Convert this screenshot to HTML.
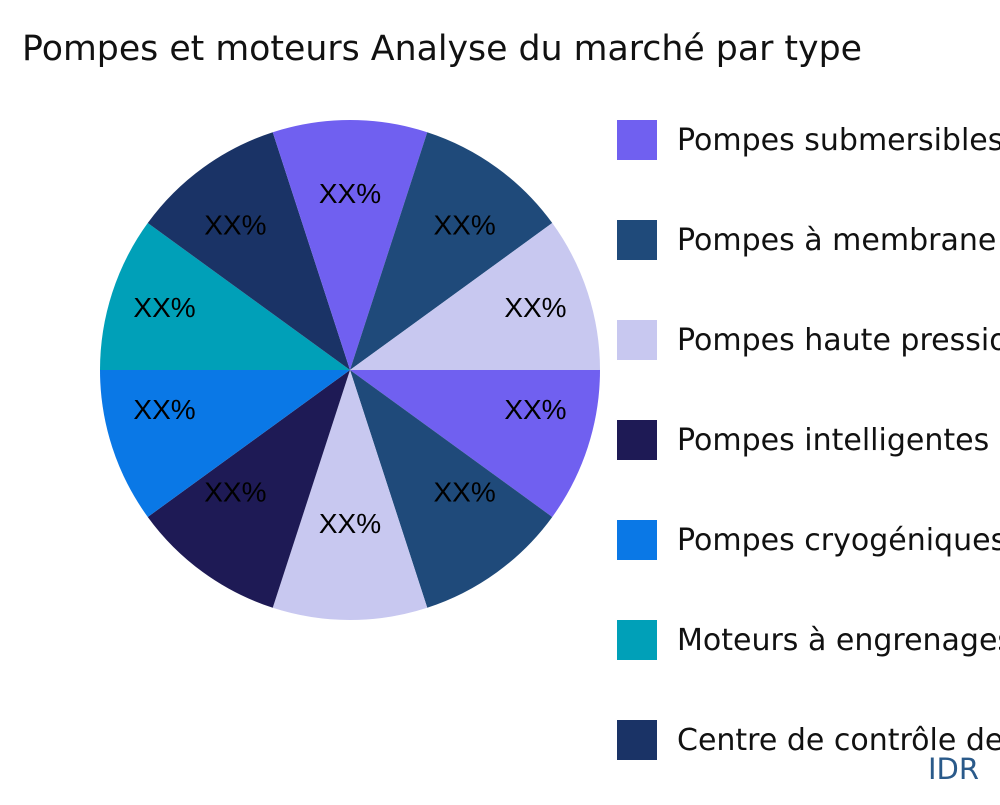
<!DOCTYPE html>
<html><head><meta charset="utf-8"><style>
body{margin:0;background:#fff;width:1000px;height:800px;overflow:hidden;font-family:"Liberation Sans","DejaVu Sans",sans-serif}
</style></head><body>
<svg width="1000" height="800">
<text x="22" y="60" font-size="34.7" fill="#111" font-family="DejaVu Sans, sans-serif" textLength="840" lengthAdjust="spacingAndGlyphs">Pompes et moteurs Analyse du marché par type</text>
<g id="pie"></g>
<g id="legend"></g>
<text x="928" y="779" font-size="29" fill="#2a5a8a" font-family="DejaVu Sans, sans-serif">IDR</text>
</svg>
<script>
const categories=["Pompes submersibles","Pompes à membrane","Pompes haute pression","Pompes intelligentes","Pompes cryogéniques","Moteurs à engrenages","Centre de contrôle des moteurs"];
const colors=["#7060f0","#1f4a7a","#c8c8f0","#1e1a55","#0a78e6","#00a0b8","#1a3366"];
const sliceValues=[10,10,10,10,10,10,10,10,10,10];
const sliceColorIdx=[0,1,2,3,4,5,6,0,1,2];
const sliceLabels=["XX%","XX%","XX%","XX%","XX%","XX%","XX%","XX%","XX%","XX%"];
const NS="http://www.w3.org/2000/svg";
const cx=350,cy=370,R=250;
const pie=document.getElementById('pie');
const total=sliceValues.reduce((a,b)=>a+b,0);
let a0=0;
sliceValues.forEach((v,i)=>{
  const a1=a0+v/total*2*Math.PI;
  const x0=cx+R*Math.cos(a0),y0=cy+R*Math.sin(a0),x1=cx+R*Math.cos(a1),y1=cy+R*Math.sin(a1);
  const p=document.createElementNS(NS,'path');
  p.setAttribute('d',`M${cx},${cy}L${x0},${y0}A${R},${R} 0 ${a1-a0>Math.PI?1:0} 1 ${x1},${y1}Z`);
  p.setAttribute('fill',colors[sliceColorIdx[i]]);
  
  
  pie.appendChild(p);
  const m=(a0+a1)/2;
  const t=document.createElementNS(NS,'text');
  t.setAttribute('x',cx+195*Math.cos(m));
  t.setAttribute('y',cy+165*Math.sin(m)-12+10);
  t.setAttribute('text-anchor','middle');
  t.setAttribute('font-size','28');
  t.setAttribute('font-family','Liberation Sans, sans-serif');
  t.setAttribute('fill','#000');
  t.textContent=sliceLabels[i];
  
  
  pie.appendChild(t);
  a0=a1;
});
const lg=document.getElementById('legend');
categories.forEach((c,i)=>{
  const y=120+i*100;
  const r=document.createElementNS(NS,'rect');
  r.setAttribute('x',617);r.setAttribute('y',y);r.setAttribute('width',40);r.setAttribute('height',40);
  r.setAttribute('fill',colors[i]);
  
  
  lg.appendChild(r);
  const t=document.createElementNS(NS,'text');
  t.setAttribute('x',677);t.setAttribute('y',y+30);
  t.setAttribute('font-size','30');t.setAttribute('fill','#111');
  t.setAttribute('font-family','DejaVu Sans, sans-serif');
  t.textContent=c;
  
  
  lg.appendChild(t);
});
</script>
</body></html>
